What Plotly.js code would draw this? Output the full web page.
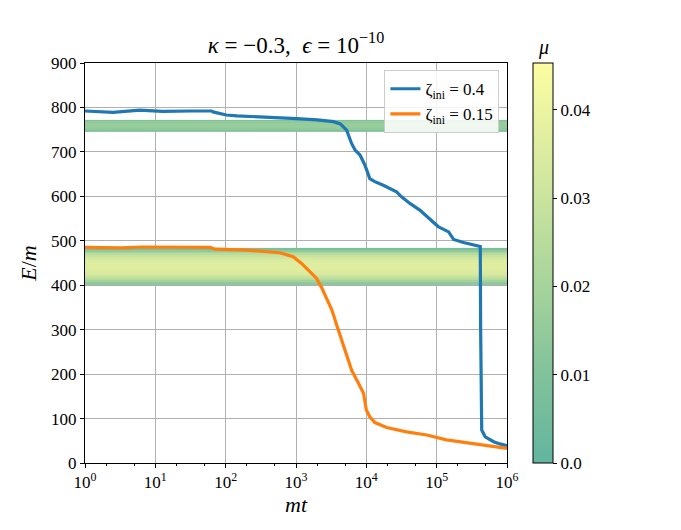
<!DOCTYPE html>
<html>
<head>
<meta charset="utf-8">
<script src="https://cdn.plot.ly/plotly-3.0.1.min.js"></script>
<style>
  html, body { margin: 0; padding: 0; background: #fff; }
  #chart { width: 681px; height: 530px; }
</style>
</head>
<body>
<div id="chart"></div>
<script>
// blue run, zeta_ini = 0.4
const blueT = [1, 2.5, 6, 12.6, 32, 63, 66, 102, 145, 316, 1020, 2000, 3400, 4270, 5250,
  6170, 6920, 8130, 9550, 11200, 13200, 17400, 26900, 31600, 41700, 57500, 75900, 105000,
  148000, 174000, 240000, 389000, 417000, 422000, 427000, 437000, 490000, 646000, 794000, 1000000];
const blueE = [792, 789, 794, 791, 792, 792, 790, 783, 781, 779, 775, 772, 768, 763, 749,
  719, 704, 693, 670, 640, 633, 625, 610, 599, 584, 569, 551, 532,
  520, 503, 496, 489, 487, 300, 120, 74, 59, 48, 43, 39];

// orange run, zeta_ini = 0.15
const orangeT = [1, 3.2, 6.3, 20, 60, 71, 200, 590, 910, 1200, 1580, 1950, 2340, 2750, 3240,
  3800, 4470, 5250, 6170, 7760, 9120, 10000, 11200, 13200, 19500, 37200, 72400, 138000,
  331000, 1000000];
const orangeE = [485, 484, 486, 485, 485, 481, 479, 473, 464, 449, 430, 416, 393, 367, 344,
  310, 277, 243, 209, 179, 157, 119, 104, 91, 80, 70, 63, 52,
  43, 33];

// mu bands (edges in E/m, mu per strip)
const upperEdges = [746, 750, 754, 758, 762, 766, 770, 772];
const upperMu = [0.010, 0.014, 0.016, 0.016, 0.016, 0.014, 0.010];
const lowerEdges = [400, 404, 408, 412, 416, 420, 424, 428, 432, 436, 440, 444, 448, 452,
  456, 460, 464, 468, 472, 476, 480, 484];
const lowerMu = [0.008, 0.014, 0.020, 0.025, 0.029, 0.032, 0.034, 0.035, 0.036, 0.036,
  0.036, 0.036, 0.036, 0.035, 0.034, 0.032, 0.029, 0.025, 0.020, 0.014, 0.008];

const muTicks = [0, 0.01, 0.02, 0.03, 0.04];
const muTickText = ['0.0', '0.01', '0.02', '0.03', '0.04'];
const xTicks = [1, 10, 100, 1000, 10000, 100000, 1000000];
const xTickText = xTicks.map((v, i) => '10<sup>' + i + '</sup>');

const FONT = 'Liberation Serif, DejaVu Serif, serif';
const tSpan = [1, 1000000];

function band(edges, mu) {
  return {
    type: 'heatmap',
    x: tSpan,
    y: edges,
    z: mu.map(m => [m]),
    coloraxis: 'coloraxis',
    hoverinfo: 'skip',
    showlegend: false
  };
}

const data = [
  band(upperEdges, upperMu),
  band(lowerEdges, lowerMu),
  {
    x: blueT, y: blueE, type: 'scatter', mode: 'lines',
    name: 'ζ<sub>ini</sub> = 0.4',
    line: { color: '#1f77b4', width: 3.2 }
  },
  {
    x: orangeT, y: orangeE, type: 'scatter', mode: 'lines',
    name: 'ζ<sub>ini</sub> = 0.15',
    line: { color: '#ff7f0e', width: 3.2 }
  }
];

const layout = {
  width: 681,
  height: 530,
  margin: { l: 85, r: 174, t: 63, b: 67 },
  paper_bgcolor: '#fff',
  plot_bgcolor: '#fff',
  font: { family: FONT, size: 17, color: '#000' },
  title: {
    text: '<i>κ</i> = −0.3,  <i>ϵ</i> = 10<sup>−10</sup>',
    font: { size: 23 },
    x: 0.5, xref: 'paper',
    y: 1 - 45 / 530, yref: 'container', yanchor: 'middle'
  },
  xaxis: {
    type: 'log',
    range: [0, 6],
    tickvals: xTicks,
    ticktext: xTickText,
    ticks: 'outside', ticklen: 4, tickcolor: '#000',
    showgrid: true, gridcolor: '#b0b0b0', gridwidth: 1,
    showline: true, linecolor: '#000', linewidth: 1, mirror: true,
    zeroline: false,
    automargin: true,
    minor: { ticks: 'outside', ticklen: 2, tickcolor: '#000', showgrid: false },
    title: { text: '<i>mt</i>', font: { size: 22 }, standoff: 2 }
  },
  yaxis: {
    range: [0, 900],
    dtick: 100,
    ticks: 'outside', ticklen: 4, tickcolor: '#000',
    showgrid: true, gridcolor: '#b0b0b0', gridwidth: 1,
    showline: true, linecolor: '#000', linewidth: 1, mirror: true,
    zeroline: false,
    automargin: true,
    title: { text: '<i>E</i>/<i>m</i>', font: { size: 22 }, standoff: 8 }
  },
  coloraxis: {
    cmin: 0,
    cmax: 0.0453,
    colorscale: [
      [0, '#62b59f'], [0.25, '#86c49b'], [0.5, '#b0d89c'],
      [0.75, '#d8ea9f'], [1, '#fdfda2']
    ],
    colorbar: {
      x: (533 - 85) / 422, xanchor: 'left', xref: 'paper',
      y: 0.5, yanchor: 'middle',
      lenmode: 'pixels', len: 400,
      thicknessmode: 'pixels', thickness: 20,
      xpad: 0, ypad: 0,
      outlinewidth: 1, outlinecolor: '#000',
      tickvals: muTicks, ticktext: muTickText,
      ticks: 'outside', ticklen: 4, tickcolor: '#000',
      tickfont: { size: 17 }
    }
  },
  annotations: [{
    text: '<i>μ</i>', xref: 'paper', yref: 'paper',
    x: (543 - 85) / 422, y: 1, xanchor: 'center', yanchor: 'bottom',
    yshift: 2, showarrow: false, font: { size: 20 }
  }],
  showlegend: true,
  legend: {
    x: 0.982, xanchor: 'right',
    y: 0.982, yanchor: 'top',
    bgcolor: 'rgba(255,255,255,0.85)',
    bordercolor: '#cccccc', borderwidth: 1,
    font: { size: 17 },
    itemwidth: 30,
    tracegroupgap: 0
  }
};

Plotly.newPlot('chart', data, layout, { displayModeBar: false, staticPlot: true });
</script>
</body>
</html>
